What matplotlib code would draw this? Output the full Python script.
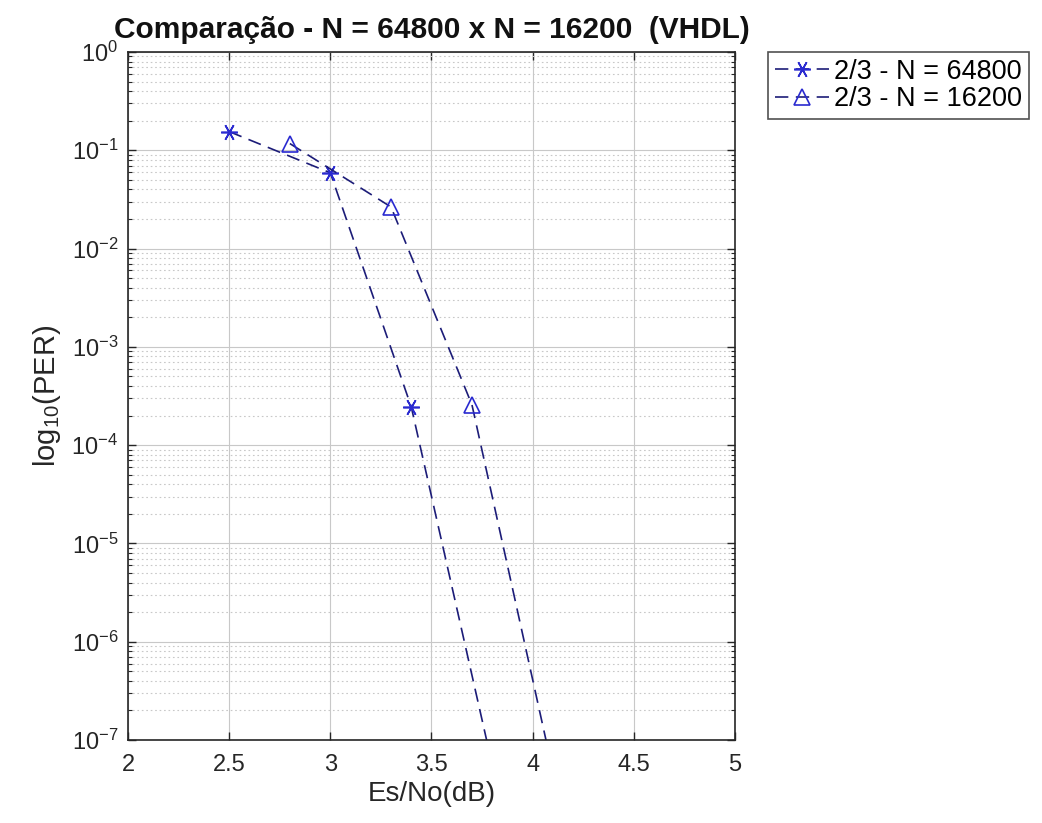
import matplotlib
matplotlib.use("Agg")
import matplotlib.pyplot as plt
from matplotlib.ticker import NullFormatter, FixedLocator, FixedFormatter
import math

plt.rcParams['font.family'] = ['Liberation Sans', 'DejaVu Sans']
plt.rcParams['mathtext.fontset'] = 'custom'
plt.rcParams['mathtext.rm'] = 'Liberation Sans'
plt.rcParams['mathtext.it'] = 'Liberation Sans'

# Data
esno_64800 = [2.5, 3.0, 3.4, 3.8]
per_64800 = [0.155, 0.059, 2.45e-4, 5.6e-8]
esno_16200 = [2.8, 3.3, 3.7, 4.1]
per_16200 = [0.117, 0.0265, 2.57e-4, 4.8e-8]
labels = ['2/3 - N = 64800', '2/3 - N = 16200']
x_ticks = [2, 2.5, 3, 3.5, 4, 4.5, 5]
x_ticklabels = ['2', '2.5', '3', '3.5', '4', '4.5', '5']
y_exponents = [-7, -6, -5, -4, -3, -2, -1, 0]
title = 'Comparação - N = 64800 x N = 16200  (VHDL)'

W, H = 1042, 823
fig = plt.figure(figsize=(W / 100, H / 100), dpi=100)
ax = fig.add_axes([128 / W, 1 - 740 / H, (735 - 128) / W, (740 - 52) / H])

line_c = '#1c1c78'
mark_c = '#2a2ad0'
asterisk = (6, 2, 30)
dash = (0, (8, 4.5))

l1, = ax.plot(esno_64800, per_64800, linestyle=dash, color=line_c, lw=1.2,
              marker=asterisk, ms=12, mec=mark_c, mew=1.2, label=labels[0])
l2, = ax.plot(esno_16200, per_16200, linestyle=dash, color=line_c, lw=1.2,
              marker='^', ms=12, mfc='none', mec=mark_c, mew=1.2, label=labels[1])

ax.set_yscale('log')
ax.set_xlim(2, 5)
ax.set_ylim(1e-7, 1)
ax.xaxis.set_major_locator(FixedLocator(x_ticks))
ax.xaxis.set_major_formatter(FixedFormatter(x_ticklabels))
y_major = [10.0 ** e for e in y_exponents]
y_minor = [m * 10.0 ** e for e in y_exponents[:-1] for m in range(2, 10)]
ax.yaxis.set_major_locator(FixedLocator(y_major))
ax.yaxis.set_major_formatter(FixedFormatter(
    ['10$^{\\mathregular{%d}}$' % e for e in y_exponents]))
ax.yaxis.set_minor_locator(FixedLocator(y_minor))
ax.yaxis.set_minor_formatter(NullFormatter())

ax.grid(True, which='major', color='#c8c8c8', lw=0.8, ls='-')
ax.grid(True, which='minor', axis='y', color='#c8c8c8', lw=0.8, ls=(0, (1.5, 2.5)))
ax.set_axisbelow(True)

ax.tick_params(which='both', direction='in', top=True, right=True,
               labelsize=17, colors='#262626', labelcolor='#262626')
ax.tick_params(axis='x', which='major', pad=10)
ax.tick_params(axis='y', which='major', pad=7)
ax.tick_params(which='major', length=6, width=1)
ax.tick_params(which='minor', length=3, width=0.8)
for s in ax.spines.values():
    s.set_color('#262626')
    s.set_linewidth(1.2)

ax.set_xlabel('Es/No(dB)', fontsize=20, color='#262626', labelpad=4)
ax.set_ylabel(r'log$_{\mathregular{10}}$(PER)', fontsize=21, color='#262626', labelpad=6)
ax.set_title(title, fontsize=21.5, fontweight='bold', color='#111111', pad=10)

leg = fig.legend(handles=[l1, l2], loc='upper left', bbox_to_anchor=(768 / W, 1 - 52 / H),
                 fontsize=19.5, frameon=True, fancybox=False, edgecolor='#262626',
                 handlelength=2.0, borderaxespad=0, borderpad=0.25, labelspacing=0.05,
                 handletextpad=0.2)
leg.get_frame().set_linewidth(1.2)

fig.savefig('out.png', dpi=100)
